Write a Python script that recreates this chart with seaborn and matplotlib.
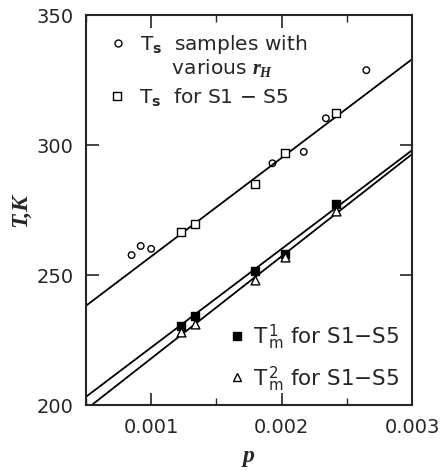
import numpy as np
import pandas as pd
import matplotlib.pyplot as plt
from matplotlib.lines import Line2D
from matplotlib.ticker import MultipleLocator, FormatStrFormatter
import seaborn as sns

# T_s for samples with various r_H (open circles)
p_circ = [0.00085, 0.00092, 0.00100, 0.00193, 0.00217, 0.00234, 0.00265]
ts_circ = [257.7, 261.2, 260.1, 293.0, 297.4, 310.3, 328.8]

# samples S1 - S5
p_s = [0.00123, 0.00134, 0.00180, 0.00203, 0.00242]
ts_s = [266.7, 269.6, 285.0, 296.8, 312.2]
tm1_s = [230.5, 234.3, 251.5, 258.0, 277.3]
tm2_s = [228.0, 231.2, 248.0, 256.8, 274.7]

# straight lines, values read at the ends of the axis
p_fit = [0.0005, 0.003]
ts_fit = [238.2, 333.0]
tm1_fit = [203.2, 298.0]
tm2_fit = [198.3, 296.5]

sns.set_style("ticks")
plt.rcParams['font.family'] = ['DejaVu Sans']
plt.rcParams['mathtext.fontset'] = 'custom'
plt.rcParams['mathtext.rm'] = 'DejaVu Sans'
plt.rcParams['mathtext.bf'] = 'DejaVu Sans:bold'
plt.rcParams['mathtext.it'] = 'Liberation Serif:italic:bold'

fig = plt.figure(figsize=(4.43, 4.70), dpi=100)
ax = fig.add_axes([0.194, 0.138, 0.736, 0.830])

for yy in (ts_fit, tm1_fit, tm2_fit):
    sns.lineplot(x=p_fit, y=yy, color='black', lw=1.3, ax=ax)

sns.scatterplot(x=p_circ, y=ts_circ, marker='o', s=22, color='black',
                facecolor='none', edgecolor='black', linewidth=1.0, ax=ax, zorder=3)
sns.scatterplot(x=p_s, y=ts_s, marker='s', s=40, color='black',
                facecolor='white', edgecolor='black', linewidth=1.0, ax=ax, zorder=3)
sns.scatterplot(x=p_s, y=tm1_s, marker='s', s=40, color='black',
                edgecolor='black', linewidth=1.0, ax=ax, zorder=3)
sns.scatterplot(x=p_s, y=tm2_s, marker='^', s=40, color='black',
                facecolor='white', edgecolor='black', linewidth=1.0, ax=ax, zorder=3)

ax.set_xlim(0.0005, 0.003)
ax.set_ylim(200, 350)
ax.set_xticks([0.001, 0.002, 0.003])
ax.xaxis.set_minor_locator(MultipleLocator(0.0005))
ax.xaxis.set_major_formatter(FormatStrFormatter('%.3f'))
ax.set_yticks([200, 250, 300, 350])
ax.tick_params(which='major', direction='in', top=True, right=True,
               length=9, width=1.2, labelsize=14, pad=9)
ax.tick_params(which='minor', direction='in', top=True, right=True,
               length=5, width=1.0)
for s in ax.spines.values():
    s.set_linewidth(1.5)

ax.set_xlabel('p', family='Liberation Serif', style='italic', weight='bold',
              fontsize=17, labelpad=7)
ax.set_ylabel('T,K', family='Liberation Serif', style='italic', weight='bold',
              fontsize=17, labelpad=4)

def mk(marker, fc, size=6):
    return Line2D([], [], ls='none', marker=marker, markersize=size,
                  markerfacecolor=fc, markeredgecolor='black', markeredgewidth=1.0)

blank = Line2D([], [], ls='none')
fs = 14.5
leg1 = ax.legend([mk('o', 'none', 5), blank],
                 [r'T$_\mathbf{s}$  samples with', r'     various $r_H$'],
                 loc='center left', bbox_to_anchor=(0.074, 0.896), frameon=False,
                 fontsize=fs, handlelength=0.8, handletextpad=0.7,
                 labelspacing=0.05, borderpad=0, borderaxespad=0)
ax.add_artist(leg1)
leg2 = ax.legend([mk('s', 'white')], [r'T$_\mathbf{s}$  for S1 $-$ S5'],
                 loc='center left', bbox_to_anchor=(0.0705, 0.79), frameon=False,
                 fontsize=fs, handlelength=0.8, handletextpad=0.7,
                 borderpad=0, borderaxespad=0)
ax.add_artist(leg2)
ax.legend([mk('s', 'black'), mk('^', 'white')],
          [r'T$^{\,\mathrm{1}}_{\,\mathrm{m}}$ for S1$-$S5',
           r'T$^{\,\mathrm{2}}_{\,\mathrm{m}}$ for S1$-$S5'],
          loc='center left', bbox_to_anchor=(0.439, 0.122), frameon=False,
          fontsize=15.5, handlelength=0.75, handletextpad=0.35,
          labelspacing=0.6, borderpad=0, borderaxespad=0)

fig.savefig('out.png', dpi=100)
